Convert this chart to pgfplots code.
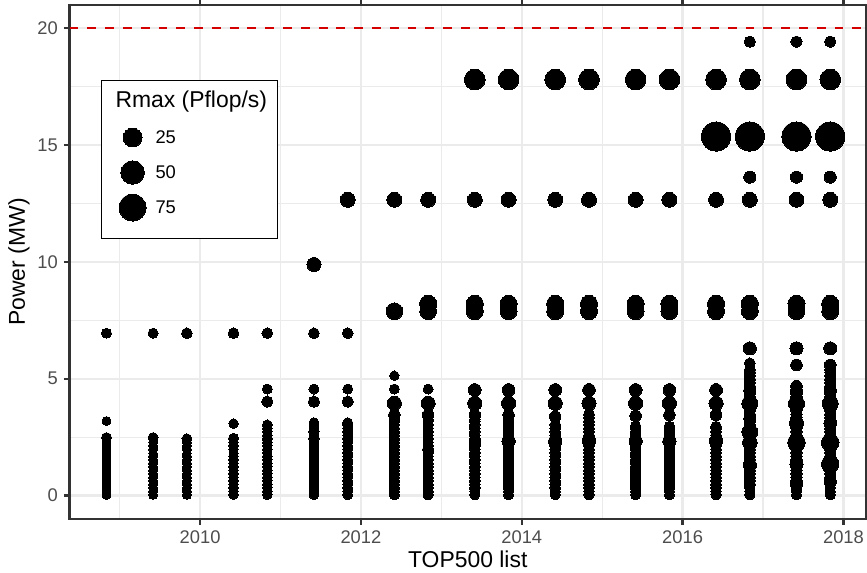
\documentclass[border=0pt]{standalone}
\usepackage{fontspec}
\setmainfont{Liberation Sans}
\usepackage{pgfplots}
\pgfplotsset{compat=1.18}
\definecolor{gray92}{HTML}{EBEBEB}
\definecolor{gray20}{HTML}{333333}
\definecolor{gray30}{HTML}{4D4D4D}
\definecolor{hred}{HTML}{D40000}
\pgfplotsset{
  bubble/.style={only marks, scatter, mark=*, forget plot, point meta=y,
    scatter/use mapped color={draw=black, fill=black},
    mark options={line width=0pt},
    visualization depends on={1.85+0.535*sqrt(\thisrow{r}) \as \msize},
    scatter/@pre marker code/.append style={/tikz/mark size=\msize}},
  legdot/.style 2 args={legend image code/.code={\path[draw=none, fill=none] (-6.5pt,-#2) rectangle (6.5pt,7pt);
    \draw[black, line width=0pt, mark=*, mark size=#1, only marks] plot coordinates {(0pt,0pt)};}}
}
\begin{document}
\begin{tikzpicture}
\useasboundingbox (-33.4pt,-25.9pt) rectangle (382.8pt,249.1pt);
\begin{axis}[
  scale only axis, width=382.3pt, height=246.7pt,
  at={(0pt,0pt)}, anchor=south west,
  xmin=2008.377, xmax=2018.28, ymin=-1, ymax=21,
  xtick={2010,2012,2014,2016,2018},
  minor xtick={2009,2011,2013,2015,2017},
  ytick={0,5,10,15,20},
  minor ytick={2.5,7.5,12.5,17.5},
  grid=both,
  major grid style={draw=gray92, line width=1.07pt},
  minor grid style={draw=gray92, line width=0.53pt},
  axis line style={draw=gray20, line width=1.07pt},
  tick style={draw=gray20, line width=1.07pt},
  tick align=outside, major tick length=2.75pt, minor tick length=0pt,
  /pgf/number format/1000 sep={},
  /pgf/number format/assume math mode=true,
  every tick label/.append style={font=\fontsize{8.8}{10}\selectfont, text=gray30, inner sep=0pt},
  xticklabel style={anchor=north},
  yticklabel style={anchor=east},
  xticklabel shift=2.55pt,
  yticklabel shift=2.75pt,
  xlabel={TOP500 list},
  ylabel={Power (MW)},
  xlabel style={at={(axis description cs:0.5,-0.0953)}, anchor=base, inner sep=0pt, font=\fontsize{11}{13}\selectfont},
  ylabel style={at={(axis description cs:-0.0562,0.5)}, anchor=base, rotate=0, inner sep=0pt, font=\fontsize{11}{13}\selectfont},
  legend style={at={(axis description cs:0.0395,0.854)}, anchor=north west,
    draw=black, line width=0.5pt, fill=white,
    inner xsep=8.4pt, inner ysep=5pt, row sep=2.8pt, column sep=4.5pt,
    nodes={inner sep=0pt, text depth=},
    font=\fontsize{8.8}{10}\selectfont},
  legend cell align=left,
]
% reference line
\addplot[hred, line width=1.07pt, dash pattern=on 4.27pt off 4.27pt, forget plot] coordinates {(2008.377,20) (2018.28,20)};

% Nov 2008
\addplot[bubble] table[row sep=\\]{x y r\\
2008.836 0.03 0.3\\ 2008.836 0.18 0.3\\ 2008.836 0.33 0.3\\ 2008.836 0.48 0.3\\ 2008.836 0.63 0.3\\ 2008.836 0.78 0.3\\
2008.836 0.93 0.3\\ 2008.836 1.08 0.3\\ 2008.836 1.23 0.3\\ 2008.836 1.38 0.3\\ 2008.836 1.53 0.3\\ 2008.836 1.68 0.3\\
2008.836 1.80 0.15\\ 2008.836 1.98 0.3\\ 2008.836 2.10 0.25\\ 2008.836 2.25 0.3\\ 2008.836 2.38 0.25\\ 2008.836 2.48 1.1\\
2008.836 3.19 0.3\\ 2008.836 6.95 1.06\\
};
% Jun 2009
\addplot[bubble] table[row sep=\\]{x y r\\
2009.416 0.03 0.3\\ 2009.416 0.18 0.3\\ 2009.416 0.33 0.3\\ 2009.416 0.48 0.3\\ 2009.416 0.63 0.3\\ 2009.416 0.78 0.3\\
2009.416 0.93 0.3\\ 2009.416 1.08 0.3\\ 2009.416 1.23 0.3\\ 2009.416 1.38 0.3\\ 2009.416 1.53 0.3\\ 2009.416 1.68 0.3\\
2009.416 1.80 0.15\\ 2009.416 1.98 0.3\\ 2009.416 2.13 0.3\\ 2009.416 2.28 0.25\\ 2009.416 2.48 1.1\\ 2009.416 6.95 1.06\\
};
% Nov 2009
\addplot[bubble] table[row sep=\\]{x y r\\
2009.836 0.03 0.3\\ 2009.836 0.18 0.3\\ 2009.836 0.33 0.3\\ 2009.836 0.48 0.3\\ 2009.836 0.63 0.3\\ 2009.836 0.78 0.3\\
2009.836 0.93 0.3\\ 2009.836 1.08 0.3\\ 2009.836 1.23 0.3\\ 2009.836 1.38 0.3\\ 2009.836 1.53 0.3\\ 2009.836 1.68 0.3\\
2009.836 1.80 0.15\\ 2009.836 1.98 0.3\\ 2009.836 2.13 0.3\\ 2009.836 2.28 0.3\\ 2009.836 2.43 1.04\\ 2009.836 6.95 1.76\\
};
% Jun 2010
\addplot[bubble] table[row sep=\\]{x y r\\
2010.416 0.03 0.6\\ 2010.416 0.18 0.6\\ 2010.416 0.33 0.6\\ 2010.416 0.48 0.6\\ 2010.416 0.63 0.6\\ 2010.416 0.78 0.6\\
2010.416 0.93 0.6\\ 2010.416 1.08 0.6\\ 2010.416 1.23 0.6\\ 2010.416 1.38 0.6\\ 2010.416 1.53 0.6\\ 2010.416 1.68 0.6\\
2010.416 1.80 0.3\\ 2010.416 1.98 0.6\\ 2010.416 2.13 0.5\\ 2010.416 2.28 0.6\\ 2010.416 2.45 1.04\\ 2010.416 3.08 0.6\\
2010.416 6.95 1.76\\
};
% Nov 2010
\addplot[bubble] table[row sep=\\]{x y r\\
2010.836 0.03 0.6\\ 2010.836 0.18 0.6\\ 2010.836 0.33 0.6\\ 2010.836 0.48 0.6\\ 2010.836 0.63 0.6\\ 2010.836 0.78 0.6\\
2010.836 0.93 0.6\\ 2010.836 1.08 0.6\\ 2010.836 1.23 0.6\\ 2010.836 1.38 0.6\\ 2010.836 1.53 0.6\\ 2010.836 1.68 0.6\\
2010.836 1.83 0.4\\ 2010.836 1.98 0.6\\ 2010.836 2.13 0.6\\ 2010.836 2.28 0.6\\ 2010.836 2.43 1.0\\ 2010.836 2.58 0.6\\
2010.836 2.73 0.6\\ 2010.836 2.88 0.6\\ 2010.836 3.03 0.8\\ 2010.836 4.02 2.57\\ 2010.836 4.56 1.05\\ 2010.836 6.95 1.76\\
};
% Jun 2011
\addplot[bubble] table[row sep=\\]{x y r\\
2011.416 0.03 0.9\\ 2011.416 0.18 0.9\\ 2011.416 0.33 0.9\\ 2011.416 0.48 0.9\\ 2011.416 0.63 0.9\\ 2011.416 0.78 0.9\\
2011.416 0.93 0.9\\ 2011.416 1.08 0.9\\ 2011.416 1.23 0.9\\ 2011.416 1.38 0.9\\ 2011.416 1.53 0.9\\ 2011.416 1.68 0.9\\
2011.416 1.83 0.6\\ 2011.416 1.98 0.9\\ 2011.416 2.13 0.9\\ 2011.416 2.28 0.9\\ 2011.416 2.43 1.3\\ 2011.416 2.58 0.9\\
2011.416 2.73 1.3\\ 2011.416 2.88 0.9\\ 2011.416 3.03 0.9\\ 2011.416 3.12 0.9\\
2011.416 4.02 2.57\\ 2011.416 4.56 1.05\\ 2011.416 6.95 1.76\\ 2011.416 9.89 8.16\\
};
% Nov 2011
\addplot[bubble] table[row sep=\\]{x y r\\
2011.836 0.03 0.9\\ 2011.836 0.18 0.9\\ 2011.836 0.33 0.9\\ 2011.836 0.48 0.9\\ 2011.836 0.63 0.9\\ 2011.836 0.78 0.9\\
2011.836 0.93 0.9\\ 2011.836 1.08 0.9\\ 2011.836 1.23 0.9\\ 2011.836 1.38 0.9\\ 2011.836 1.53 0.9\\ 2011.836 1.68 0.9\\
2011.836 1.83 0.9\\ 2011.836 1.98 0.9\\ 2011.836 2.13 0.9\\ 2011.836 2.28 0.9\\ 2011.836 2.43 1.1\\ 2011.836 2.58 0.9\\
2011.836 2.73 1.1\\ 2011.836 2.88 0.9\\ 2011.836 3.03 0.9\\ 2011.836 3.12 0.9\\
2011.836 4.02 2.57\\ 2011.836 4.56 1.05\\ 2011.836 6.95 1.76\\ 2011.836 12.66 10.51\\
};
% Jun 2012
\addplot[bubble] table[row sep=\\]{x y r\\
2012.416 0.03 1.3\\ 2012.416 0.18 1.3\\ 2012.416 0.33 1.3\\ 2012.416 0.48 1.3\\ 2012.416 0.63 1.3\\ 2012.416 0.78 1.3\\
2012.416 0.93 1.3\\ 2012.416 1.08 1.3\\ 2012.416 1.23 1.3\\ 2012.416 1.38 1.3\\ 2012.416 1.53 1.3\\ 2012.416 1.68 1.3\\
2012.416 1.83 1.3\\ 2012.416 1.98 1.3\\ 2012.416 2.13 1.3\\ 2012.416 2.28 1.3\\ 2012.416 2.43 1.3\\ 2012.416 2.58 1.3\\
2012.416 2.73 1.3\\ 2012.416 2.88 1.3\\ 2012.416 3.03 1.3\\ 2012.416 3.18 1.3\\ 2012.416 3.25 1.3\\
2012.416 3.45 2.9\\ 2012.416 3.95 8.16\\ 2012.416 4.56 1.05\\ 2012.416 5.13 0.6\\ 2012.416 7.89 16.32\\ 2012.416 12.66 10.51\\
};
% Nov 2012
\addplot[bubble] table[row sep=\\]{x y r\\
2012.836 0.03 1.3\\ 2012.836 0.18 1.3\\ 2012.836 0.33 1.3\\ 2012.836 0.48 1.3\\ 2012.836 0.63 1.3\\ 2012.836 0.78 1.3\\
2012.836 0.93 1.3\\ 2012.836 1.08 1.3\\ 2012.836 1.23 1.3\\ 2012.836 1.38 1.3\\ 2012.836 1.53 1.3\\ 2012.836 1.68 1.3\\
2012.836 1.83 1.3\\ 2012.836 1.98 2.5\\ 2012.836 2.13 1.3\\ 2012.836 2.28 1.3\\ 2012.836 2.43 1.3\\ 2012.836 2.58 1.3\\
2012.836 2.73 1.3\\ 2012.836 2.88 1.3\\ 2012.836 3.03 1.3\\ 2012.836 3.18 1.3\\ 2012.836 3.25 1.3\\
2012.836 3.45 2.9\\ 2012.836 3.95 8.16\\ 2012.836 4.56 1.05\\ 2012.836 7.89 16.32\\ 2012.836 8.21 17.59\\ 2012.836 12.66 10.51\\
};
% Jun 2013
\addplot[bubble] table[row sep=\\]{x y r\\
2013.416 0.03 1.2\\ 2013.416 0.18 1.2\\ 2013.416 0.33 1.8\\ 2013.416 0.48 1.8\\ 2013.416 0.63 1.8\\ 2013.416 0.78 1.8\\
2013.416 0.93 1.8\\ 2013.416 1.08 1.8\\ 2013.416 1.23 1.8\\ 2013.416 1.38 1.8\\ 2013.416 1.53 1.8\\ 2013.416 1.68 1.8\\
2013.416 1.83 1.8\\ 2013.416 1.98 1.8\\ 2013.416 2.13 1.8\\ 2013.416 2.24 3.0\\ 2013.416 2.43 1.8\\ 2013.416 2.58 1.8\\
2013.416 2.73 1.8\\ 2013.416 2.88 1.8\\ 2013.416 3.03 1.8\\ 2013.416 3.18 1.8\\ 2013.416 3.25 1.8\\
2013.416 3.45 2.9\\ 2013.416 3.95 8.59\\ 2013.416 4.52 5.17\\ 2013.416 7.89 17.17\\ 2013.416 8.21 17.59\\ 2013.416 12.66 10.51\\
2013.416 17.81 33.86\\
};
% Nov 2013
\addplot[bubble] table[row sep=\\]{x y r\\
2013.836 0.03 1.2\\ 2013.836 0.18 1.2\\ 2013.836 0.33 1.8\\ 2013.836 0.48 1.8\\ 2013.836 0.63 1.8\\ 2013.836 0.78 1.8\\
2013.836 0.93 1.8\\ 2013.836 1.08 1.8\\ 2013.836 1.23 1.8\\ 2013.836 1.38 1.8\\ 2013.836 1.53 1.8\\ 2013.836 1.68 1.8\\
2013.836 1.83 1.8\\ 2013.836 1.98 1.8\\ 2013.836 2.13 1.8\\ 2013.836 2.33 6.27\\ 2013.836 2.43 1.8\\ 2013.836 2.58 1.8\\
2013.836 2.73 1.8\\ 2013.836 2.88 1.8\\ 2013.836 3.03 1.8\\ 2013.836 3.18 1.8\\ 2013.836 3.25 1.8\\
2013.836 3.45 2.9\\ 2013.836 3.95 8.59\\ 2013.836 4.52 5.17\\ 2013.836 7.89 17.17\\ 2013.836 8.21 17.59\\ 2013.836 12.66 10.51\\
2013.836 17.81 33.86\\
};
% Jun 2014
\addplot[bubble] table[row sep=\\]{x y r\\
2014.416 0.03 1.2\\ 2014.416 0.18 1.2\\ 2014.416 0.33 1.8\\ 2014.416 0.48 1.8\\ 2014.416 0.63 1.8\\ 2014.416 0.78 1.8\\
2014.416 0.93 1.8\\ 2014.416 1.08 1.8\\ 2014.416 1.23 1.8\\ 2014.416 1.38 1.8\\ 2014.416 1.53 1.8\\ 2014.416 1.68 1.8\\
2014.416 1.83 1.8\\ 2014.416 1.98 1.8\\ 2014.416 2.13 1.8\\ 2014.416 2.33 6.27\\ 2014.416 2.43 1.8\\ 2014.416 2.58 1.8\\
2014.416 2.73 1.8\\ 2014.416 2.88 1.8\\ 2014.416 3.03 1.8\\
2014.416 3.38 2.9\\ 2014.416 3.95 8.59\\ 2014.416 4.52 5.17\\ 2014.416 7.89 17.17\\ 2014.416 8.21 17.59\\ 2014.416 12.66 10.51\\
2014.416 17.81 33.86\\
};
% Nov 2014
\addplot[bubble] table[row sep=\\]{x y r\\
2014.836 0.03 1.2\\ 2014.836 0.18 1.2\\ 2014.836 0.33 1.8\\ 2014.836 0.48 1.8\\ 2014.836 0.63 1.8\\ 2014.836 0.78 1.8\\
2014.836 0.93 1.8\\ 2014.836 1.08 1.8\\ 2014.836 1.23 1.8\\ 2014.836 1.38 1.8\\ 2014.836 1.53 1.8\\ 2014.836 1.68 1.8\\
2014.836 1.83 1.8\\ 2014.836 1.98 1.8\\ 2014.836 2.13 1.8\\ 2014.836 2.33 6.27\\ 2014.836 2.43 1.8\\ 2014.836 2.58 1.8\\
2014.836 2.73 1.8\\ 2014.836 2.88 1.8\\ 2014.836 3.03 1.8\\ 2014.836 3.18 1.8\\ 2014.836 3.33 1.8\\ 2014.836 3.48 1.8\\
2014.836 3.95 8.59\\ 2014.836 4.52 5.17\\ 2014.836 7.89 17.17\\ 2014.836 8.21 17.59\\ 2014.836 12.66 10.51\\
2014.836 17.81 33.86\\
};
% Jun 2015
\addplot[bubble] table[row sep=\\]{x y r\\
2015.416 0.03 1.2\\ 2015.416 0.18 1.2\\ 2015.416 0.33 1.8\\ 2015.416 0.48 1.8\\ 2015.416 0.63 1.8\\ 2015.416 0.78 1.8\\
2015.416 0.93 1.8\\ 2015.416 1.08 1.8\\ 2015.416 1.23 1.8\\ 2015.416 1.38 1.8\\ 2015.416 1.53 1.8\\ 2015.416 1.68 1.8\\
2015.416 1.83 1.8\\ 2015.416 1.98 1.8\\ 2015.416 2.13 1.8\\ 2015.416 2.33 6.27\\ 2015.416 2.43 1.8\\ 2015.416 2.58 1.8\\
2015.416 2.73 1.8\\ 2015.416 2.88 1.8\\ 2015.416 2.95 1.8\\
2015.416 3.41 2.9\\ 2015.416 3.95 8.59\\ 2015.416 4.52 5.17\\ 2015.416 7.89 17.17\\ 2015.416 8.21 17.59\\ 2015.416 12.66 10.51\\
2015.416 17.81 33.86\\
};
% Nov 2015
\addplot[bubble] table[row sep=\\]{x y r\\
2015.836 0.03 1.2\\ 2015.836 0.18 1.2\\ 2015.836 0.33 1.8\\ 2015.836 0.48 1.8\\ 2015.836 0.63 1.8\\ 2015.836 0.78 1.8\\
2015.836 0.93 1.8\\ 2015.836 1.08 1.8\\ 2015.836 1.23 1.8\\ 2015.836 1.38 1.8\\ 2015.836 1.53 1.8\\ 2015.836 1.68 1.8\\
2015.836 1.83 1.8\\ 2015.836 1.98 1.8\\ 2015.836 2.13 1.8\\ 2015.836 2.33 6.27\\ 2015.836 2.43 1.8\\ 2015.836 2.58 1.8\\
2015.836 2.73 1.8\\ 2015.836 2.88 1.8\\ 2015.836 2.95 1.8\\
2015.836 3.45 2.9\\ 2015.836 3.95 8.59\\ 2015.836 4.52 5.17\\ 2015.836 7.89 17.17\\ 2015.836 8.21 17.59\\ 2015.836 12.66 10.51\\
2015.836 17.81 33.86\\
};
% Jun 2016
\addplot[bubble] table[row sep=\\]{x y r\\
2016.416 0.03 1.2\\ 2016.416 0.18 1.2\\ 2016.416 0.33 1.8\\ 2016.416 0.48 1.8\\ 2016.416 0.63 1.8\\ 2016.416 0.78 1.8\\
2016.416 0.93 1.8\\ 2016.416 1.08 1.8\\ 2016.416 1.23 1.8\\ 2016.416 1.38 1.8\\ 2016.416 1.53 1.8\\ 2016.416 1.68 1.8\\
2016.416 1.83 1.8\\ 2016.416 1.98 1.8\\ 2016.416 2.13 1.8\\ 2016.416 2.33 6.27\\ 2016.416 2.43 1.8\\ 2016.416 2.58 1.8\\
2016.416 2.73 1.8\\ 2016.416 2.88 1.8\\ 2016.416 2.95 1.8\\
2016.416 3.45 2.9\\ 2016.416 3.95 8.59\\ 2016.416 4.52 5.17\\ 2016.416 7.89 17.17\\ 2016.416 8.21 17.59\\ 2016.416 12.66 10.51\\
2016.416 15.37 93.01\\ 2016.416 17.81 33.86\\
};
% Nov 2016
\addplot[bubble] table[row sep=\\]{x y r\\
2016.836 0.03 1.2\\ 2016.836 0.18 1.2\\ 2016.836 0.33 1.2\\ 2016.836 0.48 2.5\\ 2016.836 0.63 2.5\\ 2016.836 0.78 2.5\\
2016.836 0.93 2.5\\ 2016.836 1.08 2.5\\ 2016.836 1.23 2.5\\ 2016.836 1.31 6.0\\ 2016.836 1.53 2.5\\ 2016.836 1.68 2.5\\
2016.836 1.83 2.5\\ 2016.836 1.98 2.5\\ 2016.836 2.13 2.5\\ 2016.836 2.27 9.78\\ 2016.836 2.43 2.5\\ 2016.836 2.58 2.5\\
2016.836 2.72 13.55\\ 2016.836 2.88 2.5\\ 2016.836 3.03 2.5\\ 2016.836 3.18 2.5\\ 2016.836 3.30 4.0\\ 2016.836 3.48 2.5\\
2016.836 3.63 2.5\\ 2016.836 3.78 2.5\\ 2016.836 3.94 14.0\\ 2016.836 4.08 2.5\\ 2016.836 4.23 2.5\\ 2016.836 4.38 2.5\\
2016.836 4.50 4.0\\ 2016.836 4.68 2.5\\ 2016.836 4.83 2.5\\ 2016.836 4.98 2.5\\ 2016.836 5.13 2.5\\ 2016.836 5.28 2.5\\
2016.836 5.38 2.0\\ 2016.836 5.66 2.0\\ 2016.836 6.30 6.0\\
2016.836 7.89 17.17\\ 2016.836 8.21 17.59\\ 2016.836 12.66 10.51\\ 2016.836 13.63 4.0\\ 2016.836 15.37 93.01\\
2016.836 17.81 33.86\\ 2016.836 19.43 2.6\\
};
% Jun 2017
\addplot[bubble] table[row sep=\\]{x y r\\
2017.416 0.03 1.2\\ 2017.416 0.18 1.2\\ 2017.416 0.33 1.2\\ 2017.416 0.50 4.0\\ 2017.416 0.63 2.5\\ 2017.416 0.78 2.5\\
2017.416 0.93 2.5\\ 2017.416 1.08 2.5\\ 2017.416 1.23 2.5\\ 2017.416 1.35 6.0\\ 2017.416 1.53 2.5\\ 2017.416 1.68 2.5\\
2017.416 1.83 2.5\\ 2017.416 1.98 2.5\\ 2017.416 2.13 2.5\\ 2017.416 2.27 19.59\\ 2017.416 2.43 2.5\\ 2017.416 2.58 2.5\\
2017.416 2.73 2.5\\ 2017.416 2.88 2.5\\ 2017.416 3.10 8.0\\ 2017.416 3.18 2.5\\ 2017.416 3.33 2.5\\ 2017.416 3.48 2.5\\
2017.416 3.63 2.5\\ 2017.416 3.78 2.5\\ 2017.416 3.94 14.0\\ 2017.416 4.08 2.5\\ 2017.416 4.23 2.5\\ 2017.416 4.38 3.0\\
2017.416 4.53 3.0\\ 2017.416 4.68 3.0\\ 2017.416 5.59 3.0\\ 2017.416 6.30 6.0\\
2017.416 7.89 17.17\\ 2017.416 8.21 17.59\\ 2017.416 12.66 10.51\\ 2017.416 13.63 4.0\\ 2017.416 15.37 93.01\\
2017.416 17.81 33.86\\ 2017.416 19.43 2.6\\
};
% Nov 2017
\addplot[bubble] table[row sep=\\]{x y r\\
2017.836 0.03 1.2\\ 2017.836 0.18 1.2\\ 2017.836 0.33 1.2\\ 2017.836 0.60 4.0\\ 2017.836 0.63 2.5\\ 2017.836 0.78 2.5\\
2017.836 0.93 2.5\\ 2017.836 1.08 2.5\\ 2017.836 1.23 2.5\\ 2017.836 1.35 19.14\\ 2017.836 1.53 2.5\\ 2017.836 1.68 2.5\\
2017.836 1.83 2.5\\ 2017.836 1.98 2.5\\ 2017.836 2.13 2.5\\ 2017.836 2.27 19.59\\ 2017.836 2.43 2.5\\ 2017.836 2.58 2.5\\
2017.836 2.73 2.5\\ 2017.836 2.88 2.5\\ 2017.836 3.10 5.0\\ 2017.836 3.18 2.5\\ 2017.836 3.33 2.5\\ 2017.836 3.48 2.5\\
2017.836 3.63 2.5\\ 2017.836 3.78 2.5\\ 2017.836 3.94 14.0\\ 2017.836 4.08 2.5\\ 2017.836 4.23 2.5\\ 2017.836 4.38 2.5\\
2017.836 4.50 4.0\\ 2017.836 4.68 2.5\\ 2017.836 4.83 2.5\\ 2017.836 4.98 2.5\\ 2017.836 5.13 2.5\\ 2017.836 5.28 2.0\\
2017.836 5.38 2.0\\ 2017.836 5.59 3.0\\ 2017.836 6.30 6.0\\
2017.836 7.89 17.17\\ 2017.836 8.21 17.59\\ 2017.836 12.66 10.51\\ 2017.836 13.63 4.0\\ 2017.836 15.37 93.01\\
2017.836 17.81 33.86\\ 2017.836 19.43 2.6\\
};

% legend
\addlegendimage{empty legend}
\addlegendentry{\hspace*{-19.2pt}\fontsize{11}{13}\selectfont Rmax (Pflop/s)\rule[-4.6pt]{0pt}{0pt}\hspace*{-3.4pt}}
\addlegendimage{legdot={4.53pt}{7pt}}
\addlegendentry{25}
\addlegendimage{legdot={5.63pt}{7pt}}
\addlegendentry{50}
\addlegendimage{legdot={6.48pt}{10pt}}
\addlegendentry{75}
\end{axis}
\end{tikzpicture}
\end{document}
